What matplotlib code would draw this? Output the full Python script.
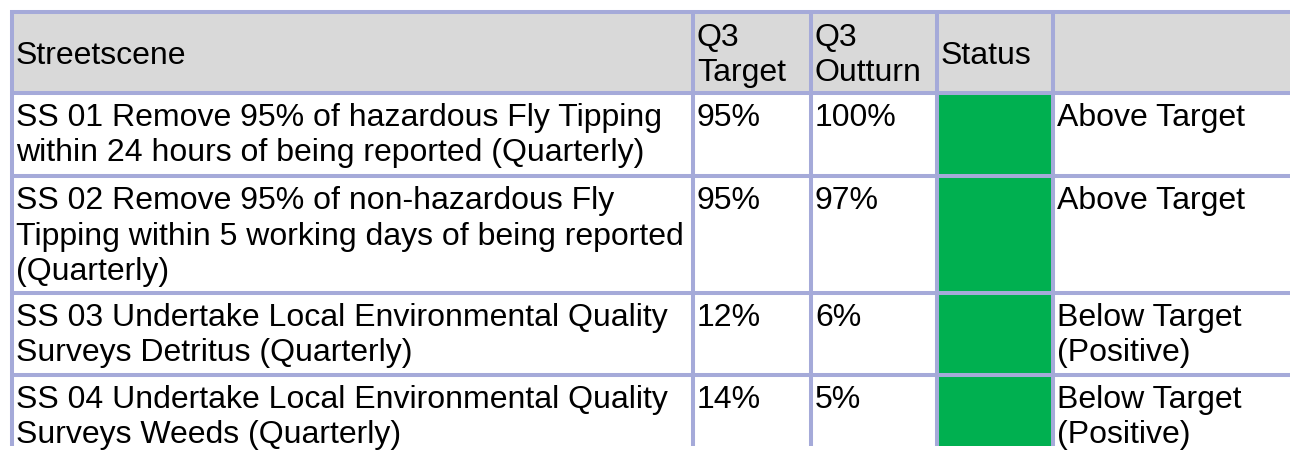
import matplotlib
matplotlib.use("Agg")
import matplotlib.pyplot as plt
from matplotlib.patches import Rectangle

plt.rcParams["font.family"] = ["Liberation Sans", "DejaVu Sans"]

# table content
header = ["Streetscene", "Q3\nTarget", "Q3\nOutturn", "Status", ""]
measures = [
    "SS 01 Remove 95% of hazardous Fly Tipping\nwithin 24 hours of being reported (Quarterly)",
    "SS 02 Remove 95% of non-hazardous Fly\nTipping within 5 working days of being reported\n(Quarterly)",
    "SS 03 Undertake Local Environmental Quality\nSurveys Detritus (Quarterly)",
    "SS 04 Undertake Local Environmental Quality\nSurveys Weeds (Quarterly)",
]
targets = ["95%", "95%", "12%", "14%"]
outturns = ["100%", "97%", "6%", "5%"]
status_colours = ["#00B050", "#00B050", "#00B050", "#00B050"]
status_text = ["Above Target", "Above Target", "Below Target\n(Positive)", "Below Target\n(Positive)"]

# layout in pixels
col_edges = [12, 693, 811, 937, 1053, 1300]
row_edges = [12, 93, 176, 293, 375, 446]
border = "#A5AAD9"
head_fill = "#D9D9D9"
fs = 23
pitch = 35.5
pad_x = 4

fig = plt.figure(figsize=(12.9, 4.54), dpi=100)
ax = fig.add_axes([0, 0, 1, 1])
ax.set_xlim(0, 1290)
ax.set_ylim(454, 0)
ax.axis("off")

ax.add_patch(Rectangle((col_edges[0], row_edges[0]), col_edges[-1] - col_edges[0],
                       row_edges[1] - row_edges[0], color=head_fill, lw=0))

rows = [[m, t, o, "", s] for m, t, o, s in zip(measures, targets, outturns, status_text)]

for i, c in enumerate(status_colours):
    ax.add_patch(Rectangle((col_edges[3], row_edges[i + 1]), col_edges[4] - col_edges[3],
                           row_edges[i + 2] - row_edges[i + 1], color=c, lw=0))

# header text, vertically centred
mid = (row_edges[0] + row_edges[1]) / 2
for j, txt in enumerate(header):
    lines = txt.split("\n")
    first = mid - (len(lines) - 1) * pitch / 2 + 11
    for k, ln in enumerate(lines):
        ax.text(col_edges[j] + pad_x, first + k * pitch, ln, fontsize=fs,
                va="baseline", ha="left", color="black")

# body text, top aligned
for i, row in enumerate(rows):
    top = row_edges[i + 1]
    for j, txt in enumerate(row):
        for k, ln in enumerate(txt.split("\n")):
            ax.text(col_edges[j] + pad_x, top + 33 + k * pitch, ln, fontsize=fs,
                    va="baseline", ha="left", color="black")

lw = 2.9
for y in row_edges[:-1]:
    ax.plot([col_edges[0] - 2, col_edges[-1]], [y, y], color=border, lw=lw, solid_capstyle="butt")
for x in col_edges[:-1]:
    ax.plot([x, x], [row_edges[0] - 2, row_edges[-1]], color=border, lw=lw, solid_capstyle="butt")

fig.savefig("out.png", dpi=100)
